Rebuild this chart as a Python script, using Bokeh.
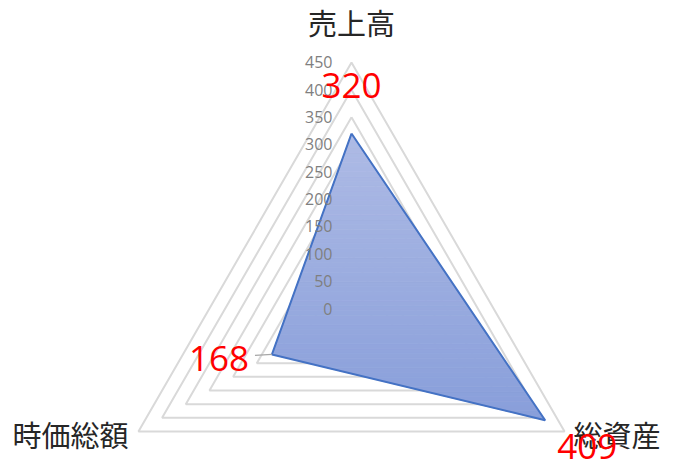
import numpy as np
from bokeh.plotting import figure
from bokeh.models import Range1d
from bokeh.core.properties import value
from bokeh.embed import file_html
from bokeh.resources import INLINE

# ---- data ----
categories = ["売上高", "総資産", "時価総額"]
values = [320, 409, 168]
ticks = [0, 50, 100, 150, 200, 250, 300, 350, 400, 450]
tick_labels = [str(t) for t in ticks]
rmax = 450

# ---- layout ----
W, H = 676, 471
PX = 0.5467          # pixels per value unit
cx, cy = 351, 308    # centre of the radar in figure pixels
angles = np.deg2rad([90, -30, 210])

p = figure(width=W, height=H, output_backend="svg", toolbar_location=None,
           x_axis_type=None, y_axis_type=None,
           x_range=Range1d(-cx / PX, (W - cx) / PX),
           y_range=Range1d((cy - H) / PX, cy / PX),
           min_border=0)
p.outline_line_color = None
p.grid.visible = False
p.background_fill_color = "white"

def d(px):
    return px / PX

# grid rings
xs, ys = [], []
for t in ticks[1:]:
    xs.append(list(t * np.cos(angles)) + [t * np.cos(angles[0])])
    ys.append(list(t * np.sin(angles)) + [t * np.sin(angles[0])])
p.multi_line(xs, ys, line_color="#D9D9D9", line_width=2)

# data polygon with vertical gradient
vx = np.array(values) * np.cos(angles)
vy = np.array(values) * np.sin(angles)
poly = list(zip(vx, vy))

def clip(pts, yv, keep_above):
    out = []
    n = len(pts)
    for i in range(n):
        a, b = pts[i], pts[(i + 1) % n]
        ina = a[1] >= yv if keep_above else a[1] <= yv
        inb = b[1] >= yv if keep_above else b[1] <= yv
        if ina:
            out.append(a)
        if ina != inb:
            t = (yv - a[1]) / (b[1] - a[1])
            out.append((a[0] + t * (b[0] - a[0]), yv))
    return out

top_c = np.array([0xAE, 0xBB, 0xE5])
bot_c = np.array([0x88, 0x9E, 0xDA])
ymin, ymax = vy.min(), vy.max()
N = 60
edges = np.linspace(ymin, ymax, N + 1)
bx, by, bc = [], [], []
for i in range(N):
    seg = clip(clip(poly, edges[i], True), edges[i + 1], False)
    if len(seg) < 3:
        continue
    f = (0.5 * (edges[i] + edges[i + 1]) - ymin) / (ymax - ymin)
    c = bot_c + (top_c - bot_c) * f
    bx.append([q[0] for q in seg])
    by.append([q[1] for q in seg])
    bc.append("#%02x%02x%02x" % tuple(int(round(v)) for v in c))
p.patches(bx, by, fill_color=bc, line_color=bc, line_width=0.8)
p.line(list(vx) + [vx[0]], list(vy) + [vy[0]], line_color="#4472C4", line_width=2)

# tick labels along the top axis
p.text(x=[d(-19)] * len(ticks), y=ticks, text=tick_labels,
       text_font=value("Open Sans"), text_font_size="16px", text_color="#7F7F7F",
       text_align="right", text_baseline="middle")

# category labels
ox = rmax * np.cos(angles)
oy = rmax * np.sin(angles)
cat_font = value("Noto Sans CJK JP")
p.text(x=[ox[0]], y=[oy[0] + d(40)], text=[categories[0]],
       text_font=cat_font, text_font_size="29px", text_color="#262626",
       text_align="center", text_baseline="middle")
p.text(x=[ox[1] + d(9)], y=[oy[1] - d(2)], text=[categories[1]],
       text_font=cat_font, text_font_size="29px", text_color="#262626",
       text_align="left", text_baseline="middle")
p.text(x=[ox[2] - d(10)], y=[oy[2] - d(2)], text=[categories[2]],
       text_font=cat_font, text_font_size="29px", text_color="#262626",
       text_align="right", text_baseline="middle")

# leader line for the left value label
p.line([vx[2] - d(17), vx[2]], [vy[2] - d(1), vy[2]], line_color="#A6A6A6", line_width=1.2)

# value labels
lab_font = value("Open Sans")
p.text(x=[vx[0]], y=[vy[0] + d(48)], text=[str(values[0])],
       text_font=lab_font, text_font_size="35px", text_color="#FF0000",
       text_align="center", text_baseline="middle")
p.text(x=[vx[1] + d(42)], y=[vy[1] - d(26)], text=[str(values[1])],
       text_font=lab_font, text_font_size="35px", text_color="#FF0000",
       text_align="center", text_baseline="middle")
p.text(x=[vx[2] - d(23)], y=[vy[2] - d(4)], text=[str(values[2])],
       text_font=lab_font, text_font_size="35px", text_color="#FF0000",
       text_align="right", text_baseline="middle")

open("out.html", "w").write(file_html(p, INLINE))
